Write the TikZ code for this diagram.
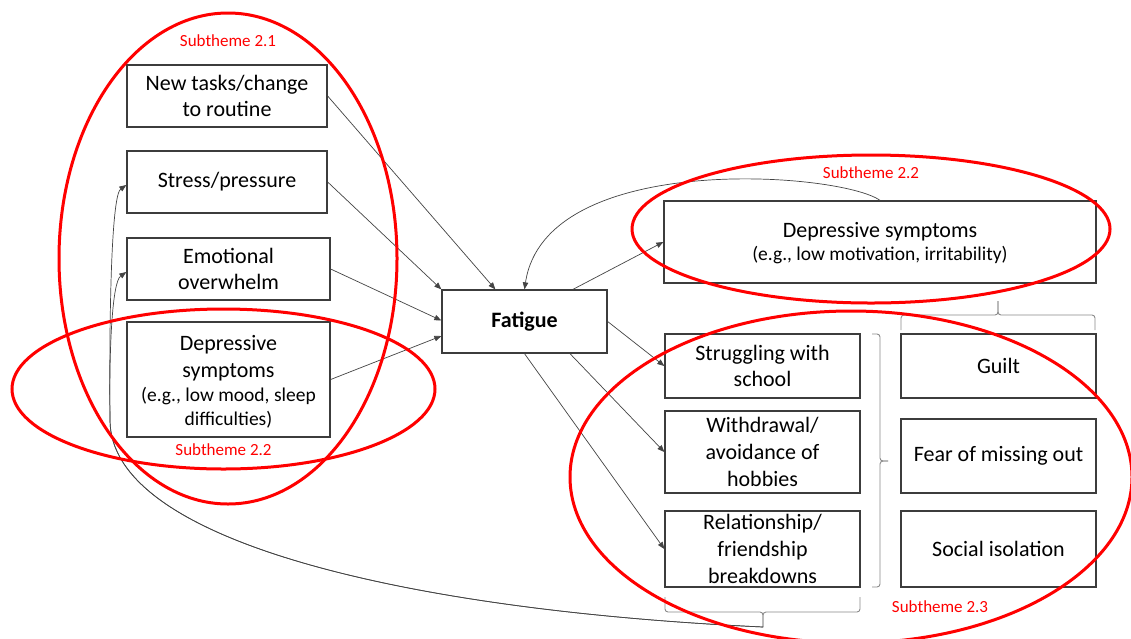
\documentclass[tikz,border=0pt]{standalone}
\usepackage{fontspec}
\setmainfont{Carlito}
\usetikzlibrary{arrows.meta,calc}
\definecolor{boxline}{HTML}{3C3C3C}
\definecolor{arrline}{HTML}{444444}
\definecolor{brgray}{HTML}{8A8A8A}
\definecolor{thm}{HTML}{FF0000}
\newcommand{\bigf}{\fontsize{22}{26.8}\selectfont}
\newcommand{\smallf}{\fontsize{19.5}{23.4}\selectfont}
\newcommand{\labf}{\fontsize{17}{20}\selectfont}
\begin{document}
\begin{tikzpicture}[x=1pt,y=-1pt,
  box/.style={draw=boxline,line width=1.3pt,inner xsep=2pt,inner ysep=0pt,align=center,font=\bigf,text=black},
  txt/.style={inner sep=0pt,anchor=base,text=black},
  arr/.style={draw=arrline,line width=0.7pt,-{Triangle[length=7pt,width=5.5pt]}},
  brc/.style={draw=brgray,line width=0.9pt,rounded corners=3pt},
  theme/.style={draw=thm,line width=3pt},
  themelab/.style={text=thm,font=\labf,inner sep=0pt}]
\fill[white] (0,0) rectangle (1131,638);
\useasboundingbox (0,0) rectangle (1131,638);
\clip (0,0) rectangle (1131,638);

% left column
\node[box,minimum width=200pt,minimum height=62pt] (new) at (227,96) {New tasks/change\\to routine};
\node[box,minimum width=200pt,minimum height=62pt] (stress) at (227,182) {Stress/pressure};
\node[box,minimum width=203pt,minimum height=62pt] (emo) at (228.5,269) {Emotional\\overwhelm};
\node[box,minimum width=203pt,minimum height=115pt] (dep) at (228.5,379.5) {};
\node[txt,font=\bigf] (dep1) at (228.5,350) {Depressive};
\node[txt,font=\bigf] (dep2) at (228.5,377) {symptoms};
\node[txt,font=\smallf] (dep3) at (228.5,401.7) {(e.g., low mood, sleep};
\node[txt,font=\smallf] (dep4) at (228.5,425) {difficulties)};

% centre
\node[box,minimum width=165pt,minimum height=63pt,font=\bigf\bfseries] (fat) at (524.5,321.5) {Fatigue};

% right side
\node[box,minimum width=432pt,minimum height=82pt] (depr) at (880,242) {};
\node[txt,font=\bigf] (depr1) at (880,237.5) {Depressive symptoms};
\node[txt,font=\smallf] (depr2) at (880,260.5) {(e.g., low motivation, irritability)};

\node[box,minimum width=195pt,minimum height=64pt] (str) at (762.5,366) {Struggling with\\school};
\node[box,minimum width=195pt,minimum height=82pt] (wd) at (762.5,452) {Withdrawal/\\avoidance of\\hobbies};
\node[box,minimum width=195pt,minimum height=76pt] (rel) at (762.5,549) {Relationship/\\friendship\\breakdowns};
\node[box,minimum width=195pt,minimum height=64pt] (guilt) at (998.5,366) {Guilt};
\node[box,minimum width=195pt,minimum height=74pt] (fear) at (998.5,456) {Fear of missing out};
\node[box,minimum width=195pt,minimum height=76pt] (soc) at (998.5,549) {Social isolation};

% arrows into fatigue
\draw[arr] (new.east) -- ([xshift=54pt]fat.north west);
\draw[arr] (stress.east) -- (fat.north west);
\draw[arr] (emo.east) -- ([yshift=1pt]fat.west);
\draw[arr] (dep.east) -- ([yshift=-14.5pt]fat.west);

% arrows out of fatigue
\draw[arr] ([xshift=48.5pt]fat.north) -- (depr.west);
\draw[arr] (fat.east) -- (str.west);
\draw[arr] ([xshift=45.5pt]fat.south) -- (wd.west);
\draw[arr] (fat.south) -- (rel.west);

% feedback curve
\draw[arr] (depr.north) .. controls (840,172) and (545,150) .. (fat.north);

% braces
\coordinate (bt) at (763,627);
\draw[brc] (665,597) -- (665,612) -- (763,612) -- (bt);
\draw[brc] (bt) -- (763,612) -- (860,612) -- (860,597);
\draw[brc] (901,330) -- (901,315) -- (998,315) -- (998,301);
\draw[brc] (998,301) -- (998,315) -- (1095,315) -- (1095,330);
\draw[brc] (872,334) -- (880,334) -- (880,461) -- (888,461);
\draw[brc] (888,461) -- (880,461) -- (880,587) -- (872,587);

% long feedback curve
\coordinate (j) at (110,420);
\draw[arr] (bt) .. controls (400,610) and (110,540) .. (j) .. controls (109,300) and (112,195) .. ([yshift=-3pt]stress.west);
\draw[arr] (bt) .. controls (400,610) and (110,540) .. (j) .. controls (109,350) and (112,282) .. ([yshift=-3pt]emo.west);

% subtheme ellipses
\draw[theme] (228,258.5) ellipse [x radius=169pt, y radius=245.5pt];
\draw[theme] (223.5,389) ellipse [x radius=211.5pt, y radius=80pt];
\draw[theme] (871,229) ellipse [x radius=239pt, y radius=74pt];
\draw[theme] (851,477) ellipse [x radius=281pt, y radius=166pt];

\node[themelab] (l21) at (228,41) {Subtheme 2.1};
\node[themelab] (l22a) at (223.5,450) {Subtheme 2.2};
\node[themelab] (l22b) at (871,173) {Subtheme 2.2};
\node[themelab] (l23) at (940,607) {Subtheme 2.3};
\end{tikzpicture}
\end{document}
